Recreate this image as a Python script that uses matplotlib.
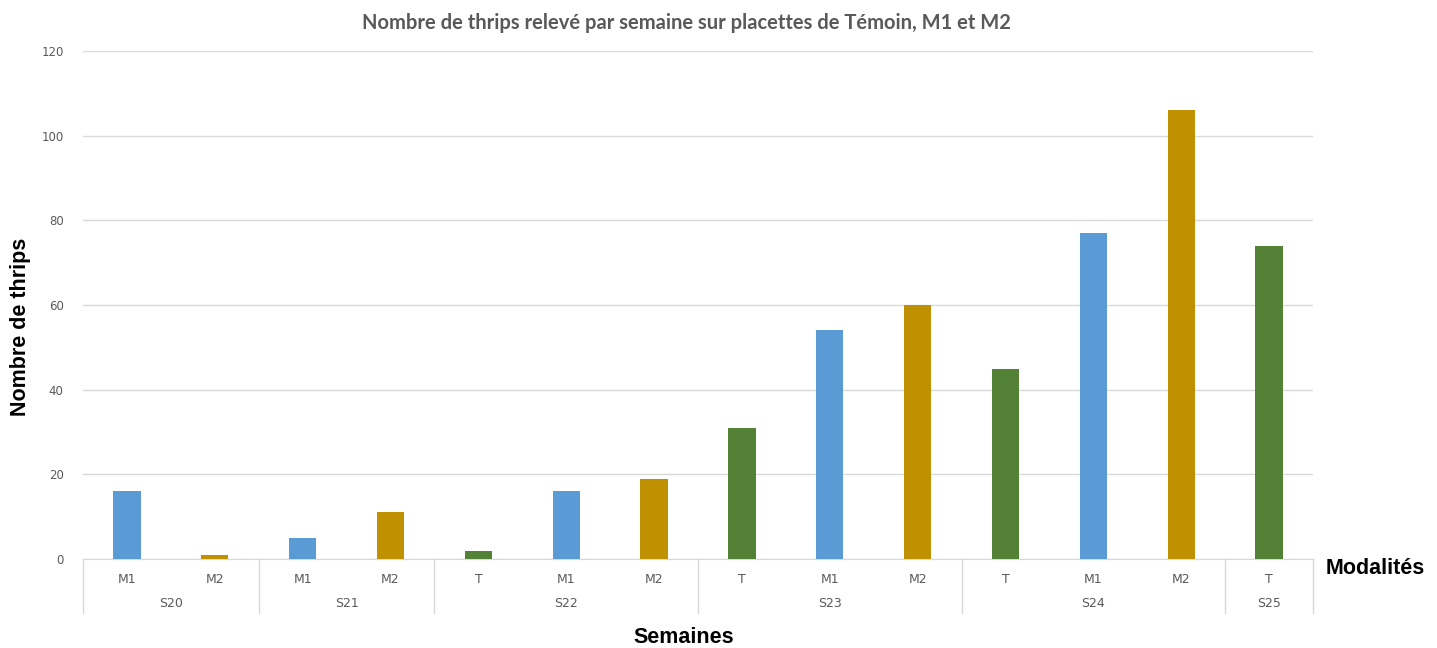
import matplotlib
matplotlib.use("Agg")
import matplotlib.pyplot as plt
import numpy as np

# données
semaines = ["S20", "S20", "S21", "S21", "S22", "S22", "S22",
            "S23", "S23", "S23", "S24", "S24", "S24", "S25"]
modalites = ["M1", "M2", "M1", "M2", "T", "M1", "M2",
             "T", "M1", "M2", "T", "M1", "M2", "T"]
valeurs = [16, 1, 5, 11, 2, 16, 19, 31, 54, 60, 45, 77, 106, 74]

couleurs = {"M1": "#5B9BD5", "M2": "#BF9000", "T": "#538135"}

fig = plt.figure(figsize=(14.37, 6.48), dpi=100)
ax = fig.add_axes([0.0578, 0.1373, 0.8559, 0.784])

x = np.arange(len(valeurs))
ax.bar(x, valeurs, width=0.31, color=[couleurs[m] for m in modalites], zorder=3)

ax.set_xlim(-0.5, len(valeurs) - 0.5)
ax.set_ylim(0, 120)
ax.set_yticks(range(0, 121, 20))
ax.grid(axis="y", color="#D9D9D9", linewidth=1, zorder=0)
for s in ["top", "right", "left"]:
    ax.spines[s].set_visible(False)
ax.spines["bottom"].set_color("#D9D9D9")
ax.tick_params(axis="y", length=0, labelsize=8.5, labelcolor="#595959", pad=14)
ax.set_xticks(x)
ax.set_xticklabels(modalites)
ax.tick_params(axis="x", length=0, labelsize=9, labelcolor="#595959", pad=10)

# séparateurs et étiquettes des semaines
tr = ax.get_xaxis_transform()
groupes = []
for i, s in enumerate(semaines):
    if not groupes or groupes[-1][0] != s:
        groupes.append([s, i, i])
    else:
        groupes[-1][2] = i
bornes = [g[1] - 0.5 for g in groupes] + [len(valeurs) - 0.5]
for b in bornes:
    ax.plot([b, b], [0, -0.107], transform=tr, color="#D9D9D9", lw=1, clip_on=False)
for s, i0, i1 in groupes:
    ax.text((i0 + i1) / 2, -0.087, s, transform=tr, ha="center", va="center",
            fontsize=9, color="#595959")

fig.text(0.4775, 0.965, "Nombre de thrips relevé par semaine sur placettes de Témoin, M1 et M2",
         ha="center", va="center", fontsize=14.5, fontweight="bold", color="#595959",
         family="Lato")
fig.text(0.476, 0.016, "Semaines", ha="center", va="center", fontsize=15.5,
         fontweight="bold", family="Liberation Sans")
fig.text(0.957, 0.123, "Modalités", ha="center", va="center", fontsize=15.5,
         fontweight="bold", family="Liberation Sans")
fig.text(0.014, 0.495, "Nombre de thrips", ha="center", va="center", fontsize=15.5,
         fontweight="bold", rotation=90, family="Liberation Sans")

fig.savefig("out.png", dpi=100)
